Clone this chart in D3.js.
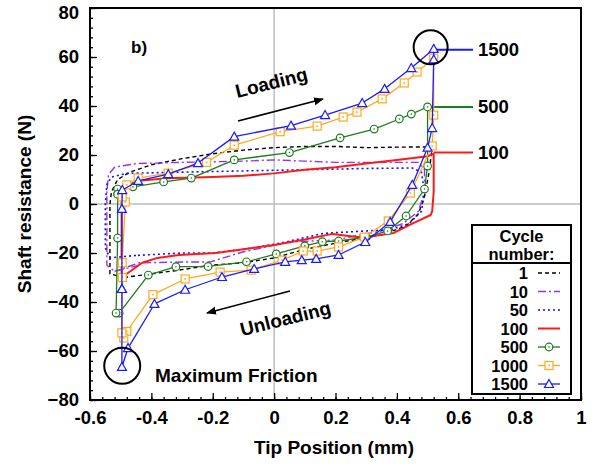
<!DOCTYPE html>
<html><head><meta charset="utf-8">
<script src="https://cdn.jsdelivr.net/npm/d3@7"></script>
<style>body{margin:0;background:#fff}svg{display:block}text{font-family:"Liberation Sans",Arial,sans-serif;font-weight:bold}</style>
</head><body><svg id="c" width="602" height="464"></svg>
<script>
// ---- data ----
const xTicks = [-0.6,-0.4,-0.2,0,0.2,0.4,0.6,0.8,1];
const yTicks = [-80,-60,-40,-20,0,20,40,60,80];
const cycles = ["1","10","50","100","500","1000","1500"];
const c1 = [[-0.49,-30],[-0.535,-28.5],[-0.535,-20],[-0.535,0],[-0.53,5],[-0.51,10],[-0.47,13],[-0.4,16],[-0.3,18.5],[-0.2,20.5],[-0.1,22],[0,23],[0.1,23.5],[0.2,23.5],[0.3,23],[0.4,23.2],[0.5,23.3],[0.515,23],[0.505,13],[0.49,3],[0.47,-4],[0.43,-9],[0.35,-12.6],[0.2,-16],[0.1,-18.5],[0,-22],[-0.1,-24],[-0.21,-25],[-0.31,-27],[-0.4,-28.5],[-0.49,-30]];
const c10 = [[-0.44,-25],[-0.52,-27.5],[-0.545,-25],[-0.545,-10],[-0.545,5],[-0.54,12],[-0.52,15],[-0.45,16.5],[-0.3,17],[-0.1,17.5],[0,18],[0.1,17.5],[0.2,17],[0.3,17],[0.4,17],[0.47,17],[0.49,14],[0.49,5],[0.47,-3],[0.42,-8],[0.35,-11],[0.28,-12.6],[0.2,-14.7],[0.05,-15.5],[-0.1,-19.5],[-0.21,-23.7],[-0.3,-23.7],[-0.44,-24],[-0.52,-27.5]];
const c50 = [[-0.45,-21],[-0.535,-22],[-0.55,-18],[-0.55,0],[-0.545,8],[-0.53,11],[-0.48,12.5],[-0.3,13],[-0.1,13.5],[0.1,14],[0.3,14.5],[0.45,14.7],[0.48,13],[0.49,5],[0.48,-3],[0.44,-8],[0.38,-10.5],[0.3,-11],[0.16,-12],[0.02,-16],[-0.1,-18.5],[-0.2,-20],[-0.3,-20],[-0.45,-21]];
const c100 = [[-0.497,-28],[-0.497,-20],[-0.497,0],[-0.497,5],[-0.48,7.5],[-0.44,9.5],[-0.35,10.5],[-0.2,11],[-0.1,11.5],[0,12.5],[0.1,14],[0.2,15],[0.3,16.5],[0.4,18],[0.5,19.5],[0.52,20.5],[0.52,18],[0.52,5],[0.515,-3],[0.51,-4.5],[0.45,-8],[0.39,-11.8],[0.3,-13.5],[0.27,-13.5],[0.19,-12.2],[0.1,-14.5],[0,-16.7],[-0.1,-18.5],[-0.19,-20],[-0.31,-20.8],[-0.38,-22],[-0.43,-24],[-0.497,-30],[-0.497,-28]];
const c500 = [[-0.51,4],[-0.51,6.1],[-0.46,7],[-0.36,9],[-0.27,10.6],[-0.13,18],[0.05,21],[0.215,27],[0.326,30.6],[0.408,34.7],[0.447,36.7],[0.5,39.6],[0.5,15.5],[0.49,6.1],[0.43,-4.9],[0.37,-11],[0.3,-13.5],[0.21,-15.1],[0.157,-15.4],[0.1,-17.1],[0.007,-20.4],[-0.09,-23.6],[-0.215,-25.5],[-0.32,-25.6],[-0.41,-29],[-0.505,-44.5],[-0.515,-44.5],[-0.51,-13.9],[-0.51,4]];
const c1000 = [[-0.495,-30],[-0.495,-24],[-0.485,0.8],[-0.495,2.9],[-0.48,7.8],[-0.443,10.6],[-0.345,12.6],[-0.22,17],[-0.13,24],[0.02,29.5],[0.14,31.8],[0.225,35.5],[0.27,37.5],[0.352,42.9],[0.424,49.4],[0.466,53.9],[0.52,59.5],[0.52,36.3],[0.515,23.7],[0.444,4.5],[0.372,-6.9],[0.294,-13.5],[0.21,-17.5],[0.14,-19.2],[0.095,-19.2],[0.026,-22.9],[-0.075,-27],[-0.176,-27.8],[-0.29,-30.6],[-0.395,-37],[-0.48,-52],[-0.49,-54.7],[-0.496,-52.6],[-0.495,-30]];
const c1500 = [[-0.496,-34.7],[-0.496,-2],[-0.495,5.7],[-0.443,9.4],[-0.345,12.2],[-0.248,16.7],[-0.13,27.5],[0.055,32],[0.166,36.3],[0.287,41.2],[0.36,47],[0.447,55.5],[0.52,63.3],[0.52,59],[0.515,31],[0.5,23],[0.45,7.8],[0.378,-7.3],[0.297,-15.5],[0.21,-20.8],[0.137,-22.4],[0.09,-22.9],[0.036,-23.6],[-0.065,-26.5],[-0.17,-29.8],[-0.29,-35],[-0.39,-40.8],[-0.476,-58.8],[-0.496,-66.5],[-0.496,-34.7]];
// end labels: [series peak x, y, label]
const endLabels = [[0.52,63,"1500"],[0.5,39.6,"500"],[0.52,21,"100"]];

const L=90,R=581,T=8,B=400;
const svg=d3.select("#c");
const x=d3.scaleLinear().domain([-0.6,1]).range([L,R]);
const y=d3.scaleLinear().domain([-80,80]).range([B,T]);
const FF='"Liberation Sans",Arial,sans-serif';

// gray zero lines
svg.append("line").attr("x1",x(-0.6)).attr("x2",x(1)).attr("y1",y(0)).attr("y2",y(0)).attr("stroke","#bdbdbd").attr("stroke-width",1.5);
svg.append("line").attr("x1",x(0)).attr("x2",x(0)).attr("y1",y(-80)).attr("y2",y(80)).attr("stroke","#bdbdbd").attr("stroke-width",1.5);

// axes
const fs=18.5;
const xMinor=d3.range(-0.6,1.0001,0.04);
const yMinor=d3.range(-80,80.001,4);
svg.append("g").attr("transform",`translate(0,${B})`).call(d3.axisBottom(x).tickValues(xMinor).tickSize(-3).tickFormat("")).call(g=>g.select(".domain").remove()).selectAll("line").attr("stroke-width",1.3);
svg.append("g").attr("transform",`translate(${L},0)`).call(d3.axisLeft(y).tickValues(yMinor).tickSize(-3).tickFormat("")).call(g=>g.select(".domain").remove()).selectAll("line").attr("stroke-width",1.3);
const gx=svg.append("g").attr("transform",`translate(0,${B})`).call(d3.axisBottom(x).tickValues(xTicks).tickSize(-7).tickPadding(11).tickFormat(d=>String(+d.toFixed(1))));
gx.select(".domain").remove();
gx.selectAll("line").attr("stroke-width",1.3);
gx.selectAll("text").attr("font-size",fs).attr("fill","#000").style("font-family",FF);
const gy=svg.append("g").attr("transform",`translate(${L},0)`).call(d3.axisLeft(y).tickValues(yTicks).tickSize(-7).tickPadding(11));
gy.select(".domain").remove();
gy.selectAll("line").attr("stroke-width",1.3);
gy.selectAll("text").attr("font-size",fs).attr("fill","#000").style("font-family",FF);
// keep the top label inside the page
gy.selectAll(".tick").filter(d=>d===80).select("text").attr("dy","0.55em");

// axis titles
svg.append("text").attr("x",334).attr("y",454).attr("text-anchor","middle").attr("font-size",19).text("Tip Position (mm)");
svg.append("text").attr("transform",`translate(31,${(T+B)/2}) rotate(-90)`).attr("text-anchor","middle").attr("font-size",19).text("Shaft resistance (N)");

// series
const line=d3.line().x(d=>x(d[0])).y(d=>y(d[1]));
const gData=svg.append("g");
const series=[
 {d:c1,color:"#000",w:1.4,dash:"4,3"},
 {d:c10,color:"#9933dd",w:1.4,dash:"8,3,2,3"},
 {d:c50,color:"#1010ff",w:1.6,dash:"2,3"},
 {d:c100,color:"#ff1a1a",w:2,dash:null},
 {d:c500,color:"#1e7b1e",w:1.3,dash:null,m:"circle"},
 {d:c1000,color:"#ffaa1a",w:1.3,dash:null,m:"square"},
 {d:c1500,color:"#1a1aff",w:1.3,dash:null,m:"tri"}
];
const lblColors={"1500":"#1a1aff","500":"#1e7b1e","100":"#ff1a1a"};
endLabels.forEach(e=>{
  gData.append("line").attr("x1",x(e[0])).attr("x2",473).attr("y1",y(e[1])).attr("y2",y(e[1])).attr("stroke",lblColors[e[2]]).attr("stroke-width",2);
  svg.append("text").attr("x",478).attr("y",y(e[1])+6.5).attr("font-size",18.5).text(e[2]);
});
function marker(g,type,cx,cy,color){
  if(type==="circle"){
    g.append("circle").attr("cx",cx).attr("cy",cy).attr("r",3.8).attr("fill","#fff").attr("stroke",color).attr("stroke-width",1.2);
    g.append("circle").attr("cx",cx).attr("cy",cy).attr("r",0.8).attr("fill",color);
  } else if(type==="square"){
    g.append("rect").attr("x",cx-4).attr("y",cy-4).attr("width",8).attr("height",8).attr("fill","#fff").attr("stroke",color).attr("stroke-width",1.2);
    g.append("rect").attr("x",cx-0.8).attr("y",cy-0.8).attr("width",1.6).attr("height",1.6).attr("fill",color);
  } else {
    g.append("path").attr("d",`M${cx},${cy-4.5}L${cx+4.5},${cy+3.5}L${cx-4.5},${cy+3.5}Z`).attr("fill","#fff").attr("stroke",color).attr("stroke-width",1.2);
  }
}
series.forEach(s=>{
  const p=gData.append("path").attr("d",line(s.d)).attr("fill","none").attr("stroke",s.color).attr("stroke-width",s.w).attr("stroke-linejoin","round");
  if(s.dash) p.attr("stroke-dasharray",s.dash);
  if(s.m){ const g=gData.append("g"); s.d.forEach(d=>marker(g,s.m,x(d[0]),y(d[1]),s.color)); }
});

// annotations
svg.append("text").attr("x",131).attr("y",53).attr("font-size",17).text("b)");
svg.append("text").attr("transform","translate(273,89) rotate(-14)").attr("text-anchor","middle").attr("font-size",19).text("Loading");
svg.append("text").attr("transform","translate(287,325) rotate(-14)").attr("text-anchor","middle").attr("font-size",19).text("Unloading");
svg.append("defs").append("marker").attr("id","ah").attr("viewBox","0 0 10 10").attr("refX",9).attr("refY",5).attr("markerWidth",10).attr("markerHeight",10).attr("markerUnits","userSpaceOnUse").attr("orient","auto").append("path").attr("d","M0,1L10,5L0,9Z").attr("fill","#000");
svg.append("line").attr("x1",238).attr("y1",121).attr("x2",323).attr("y2",99).attr("stroke","#000").attr("stroke-width",1.6).attr("marker-end","url(#ah)");
svg.append("line").attr("x1",290).attr("y1",291).attr("x2",207).attr("y2",313).attr("stroke","#000").attr("stroke-width",1.6).attr("marker-end","url(#ah)");
svg.append("circle").attr("cx",x(0.51)).attr("cy",y(64)).attr("r",17).attr("fill","none").attr("stroke","#000").attr("stroke-width",2);
svg.append("circle").attr("cx",x(-0.495)).attr("cy",y(-66)).attr("r",18).attr("fill","none").attr("stroke","#000").attr("stroke-width",2);
svg.append("text").attr("x",155).attr("y",382).attr("font-size",19).text("Maximum Friction");

// frame
svg.append("rect").attr("x",L).attr("y",T).attr("width",R-L).attr("height",B-T).attr("fill","none").attr("stroke","#000").attr("stroke-width",2);

// legend
const lg=svg.append("g");
const lx0=472,lx1=571,ly0=225,ly1=394,lsep=263,lfs=16.5;
lg.append("rect").attr("x",lx0).attr("y",ly0).attr("width",lx1-lx0).attr("height",ly1-ly0).attr("fill","#fff").attr("stroke","#000").attr("stroke-width",2);
lg.append("line").attr("x1",lx0).attr("x2",lx1).attr("y1",lsep).attr("y2",lsep).attr("stroke","#000").attr("stroke-width",2);
lg.append("text").attr("x",(lx0+lx1)/2).attr("y",241.5).attr("text-anchor","middle").attr("font-size",lfs).text("Cycle");
lg.append("text").attr("x",(lx0+lx1)/2).attr("y",260).attr("text-anchor","middle").attr("font-size",lfs).text("number:");
cycles.forEach((c,i)=>{
  const cy=273+i*18.5, s=series[i];
  lg.append("text").attr("x",528).attr("y",cy+6).attr("text-anchor","end").attr("font-size",lfs).text(c);
  const l=lg.append("line").attr("x1",538).attr("x2",560).attr("y1",cy).attr("y2",cy).attr("stroke",s.color).attr("stroke-width",s.w);
  if(s.dash) l.attr("stroke-dasharray",s.dash);
  if(s.m) marker(lg,s.m,549,cy,s.color);
});
</script></body></html>
